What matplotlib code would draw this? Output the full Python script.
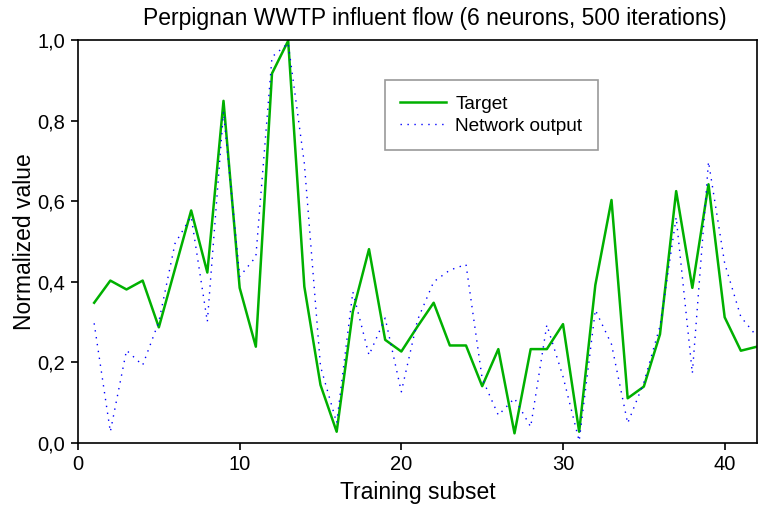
import matplotlib
matplotlib.use("Agg")
import matplotlib.pyplot as plt
from matplotlib.ticker import FuncFormatter, MultipleLocator

plt.rcParams['font.family'] = ['Liberation Sans', 'DejaVu Sans']

subset = list(range(1, 43))
target = [0.348, 0.403, 0.381, 0.403, 0.287, 0.432, 0.577, 0.423, 0.849, 0.385,
          0.239, 0.917, 0.998, 0.388, 0.144, 0.028, 0.326, 0.481, 0.256, 0.227,
          0.289, 0.348, 0.242, 0.242, 0.141, 0.233, 0.024, 0.233, 0.233, 0.295,
          0.028, 0.392, 0.603, 0.111, 0.140, 0.270, 0.625, 0.385, 0.642, 0.312,
          0.229, 0.239]
network = [0.297, 0.028, 0.230, 0.193, 0.301, 0.495, 0.562, 0.301, 0.822, 0.413,
           0.462, 0.958, 0.992, 0.694, 0.190, 0.050, 0.375, 0.218, 0.310, 0.127,
           0.305, 0.400, 0.429, 0.443, 0.160, 0.069, 0.111, 0.040, 0.293, 0.165,
           0.005, 0.330, 0.245, 0.049, 0.150, 0.290, 0.560, 0.173, 0.698, 0.446,
           0.313, 0.264]

title = "Perpignan WWTP influent flow (6 neurons, 500 iterations)"

fig = plt.figure(figsize=(7.58, 5.15), dpi=100)
ax = fig.add_axes([78/758, 1-443/515, (757-78)/758, (443-40)/515])

ax.plot(subset, target, color='#00b000', lw=1.8, label='Target')
ax.plot(subset, network, color='#0000ff', lw=1.0, ls=(0, (1, 4)), label='Network output')

ax.set_xlim(0, 42)
ax.set_ylim(0, 1.0)
ax.xaxis.set_major_locator(MultipleLocator(10))
ax.yaxis.set_major_locator(MultipleLocator(0.2))
ax.yaxis.set_major_formatter(FuncFormatter(lambda v, p: f"{v:.1f}".replace('.', ',')))
ax.tick_params(direction='out', length=5, width=1.2, labelsize=14.5, colors='black', pad=4)
for s in ax.spines.values():
    s.set_linewidth(1.2)

ax.set_xlabel("Training subset", fontsize=16.5, labelpad=5)
ax.set_ylabel("Normalized value", fontsize=16.5, labelpad=1)

fig.text(435/758, 1-19/515, title, ha='center', va='center', fontsize=16.5)

leg = ax.legend(loc='upper left', bbox_to_anchor=((385-78)/679, 1-(80-40)/403),
                fontsize=13.7, frameon=True, fancybox=False, borderpad=0.8,
                handlelength=2.4, handletextpad=0.5, labelspacing=0.25,
                borderaxespad=0)
leg.get_frame().set_edgecolor('#808080')
leg.get_frame().set_linewidth(1.2)

fig.savefig("out.png", dpi=100)
